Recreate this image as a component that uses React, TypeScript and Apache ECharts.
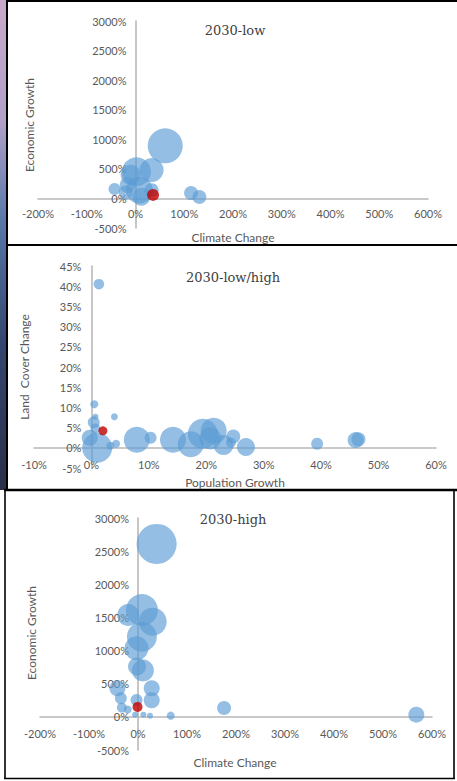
import React, { useEffect, useRef } from "react";
import * as echarts from "echarts";

// ---- Data ----
// Panel titles and axis names
const panelTitles = ["2030-low", "2030-low/high", "2030-high"];
const xNames = ["Climate Change", "Population Growth", "Climate Change"];
const yNames = ["Economic Growth", "Land  Cover Change", "Economic Growth"];

// axis ranges [min, max, interval] (percent)
const climateRange = [-200, 600, 100];
const economicRange = [-500, 3000, 500];
const populationRange = [-10, 60, 10];
const landRange = [-5, 45, 5];

// bubbles: [x %, y %, bubble size value]
const lowBlue: number[][] = [
  [61, 890, 306],
  [2, 450, 210],
  [33, 480, 144],
  [-10, 400, 100],
  [8, 140, 180],
  [-16, 225, 64],
  [33, 140, 49],
  [-43, 160, 36],
  [-20, 100, 49],
  [12, 30, 81],
  [114, 90, 49],
  [131, 25, 49],
];
const lowRed: number[][] = [[36, 60, 36]];

const landBlue: number[][] = [
  [1.3, 40.5, 28],
  [0.5, 10.8, 16],
  [0.7, 7.7, 9],
  [4, 7.7, 12],
  [0.4, 6.3, 36],
  [0.7, 4.8, 25],
  [1, 0, 225],
  [-0.3, 2.5, 64],
  [3.3, 0.5, 16],
  [4.3, 1, 16],
  [7.9, 2, 169],
  [10.3, 2.5, 36],
  [14.2, 2, 169],
  [17.3, 0.9, 169],
  [19.4, 3.5, 225],
  [21.3, 4.2, 169],
  [20.7, 2.3, 121],
  [23, 0.7, 100],
  [24.7, 2.8, 49],
  [24.3, 1.3, 25],
  [26.9, 0.2, 81],
  [39.3, 1, 36],
  [46, 1.9, 64],
  [46.5, 2.1, 49],
];
const landRed: number[][] = [[2, 4.2, 20]];

const highBlue: number[][] = [
  [38, 2609, 400],
  [8, 1612, 256],
  [30, 1436, 196],
  [-20, 1537, 121],
  [8, 1210, 225],
  [-3, 1035, 144],
  [10, 700, 121],
  [-2, 760, 81],
  [28, 431, 64],
  [28, 250, 64],
  [-42, 431, 64],
  [-35, 280, 36],
  [-33, 140, 25],
  [-21, 110, 16],
  [-3, 255, 36],
  [-6, 33, 9],
  [11, 33, 9],
  [24.5, 18, 9],
  [66.8, 18, 16],
  [175.7, 133, 49],
  [568, 33, 64],
];
const highRed: number[][] = [[-1, 150, 25]];

const LABEL_FONT = "Lato, 'Open Sans', sans-serif";
const LABEL_COLOR = "#595959";
const AXIS_COLOR = "#b8b8b8";

const grids = [
  { left: 38, width: 390, top: 21, height: 207 },
  { left: 34, width: 402, top: 266, height: 202 },
  { left: 40, width: 392, top: 518, height: 232 },
];

// pixel distance from the grid edge to the zero value (so the axes cross at 0)
function zeroOffset(range: number[], length: number) {
  return (-range[0] / (range[1] - range[0])) * length;
}

function valueAxis(gridIndex: number, range: number[], margin: number, offset: number) {
  return {
    type: "value",
    gridIndex,
    min: range[0],
    max: range[1],
    interval: range[2],
    offset: -offset,
    axisLine: { show: true, onZero: false, lineStyle: { color: AXIS_COLOR, width: 1.6 } },
    axisTick: { show: false },
    splitLine: { show: false },
    axisLabel: {
      interval: 0,
      margin,
      color: LABEL_COLOR,
      fontFamily: LABEL_FONT,
      fontSize: 11,
      formatter: (v: number) => v + "%",
    },
  };
}

const bubbleSize = (v: number[]) => 2 * Math.sqrt(v[2]);

function bubbleSeries(i: number, blue: number[][], red: number[][]) {
  return [
    {
      type: "scatter",
      xAxisIndex: i,
      yAxisIndex: i,
      data: blue,
      symbolSize: bubbleSize,
      itemStyle: { color: "rgba(91,155,213,0.82)" },
    },
    {
      type: "scatter",
      xAxisIndex: i,
      yAxisIndex: i,
      data: red,
      symbolSize: bubbleSize,
      itemStyle: { color: "#c00000" },
    },
  ];
}

export default function App() {
  const ref = useRef<HTMLDivElement>(null);

  useEffect(() => {
    document.body.style.margin = "0";
    if (!ref.current) return;
    const chart = echarts.init(ref.current, undefined, { renderer: "svg" });

    const titleStyle = {
      fontFamily: "'DejaVu Serif', serif",
      fontSize: 13,
      fill: "#404040",
      textAlign: "center",
      textVerticalAlign: "middle",
    };
    const nameStyle = {
      fontFamily: LABEL_FONT,
      fontSize: 12,
      fill: LABEL_COLOR,
      textAlign: "center",
      textVerticalAlign: "middle",
    };

    const titlePos = [
      [235, 30],
      [233, 277],
      [233, 519],
    ];
    const xNamePos = [
      [233, 237],
      [235, 482],
      [235, 762],
    ];
    const yNamePos = [
      [29, 125],
      [24, 367],
      [31, 633],
    ];

    const texts: any[] = [];
    for (let i = 0; i < 3; i++) {
      texts.push({
        type: "text",
        x: titlePos[i][0],
        y: titlePos[i][1],
        style: { ...titleStyle, text: panelTitles[i] },
      });
      texts.push({
        type: "text",
        x: xNamePos[i][0],
        y: xNamePos[i][1],
        style: { ...nameStyle, text: xNames[i] },
      });
      texts.push({
        type: "text",
        x: yNamePos[i][0],
        y: yNamePos[i][1],
        rotation: Math.PI / 2,
        style: { ...nameStyle, text: yNames[i] },
      });
    }

    const border = { stroke: "#000", lineWidth: 2 };
    const frame: any[] = [
      {
        type: "rect",
        shape: { x: 0, y: 0, width: 6, height: 490 },
        style: {
          fill: new echarts.graphic.LinearGradient(0, 0, 0, 1, [
            { offset: 0, color: "#c9a9c9" },
            { offset: 0.25, color: "#b0a0c8" },
            { offset: 0.45, color: "#5878a8" },
            { offset: 0.7, color: "#34466e" },
            { offset: 1, color: "#2a2f48" },
          ]),
        },
      },
      { type: "line", shape: { x1: 7, y1: 0, x2: 7, y2: 490 }, style: border },
      { type: "line", shape: { x1: 6, y1: 1, x2: 457, y2: 1 }, style: border },
      { type: "line", shape: { x1: 6, y1: 245, x2: 457, y2: 245 }, style: border },
      { type: "line", shape: { x1: 4, y1: 490, x2: 457, y2: 490 }, style: { stroke: "#000", lineWidth: 2.5 } },
      { type: "line", shape: { x1: 5, y1: 490, x2: 5, y2: 779 }, style: { stroke: "#000", lineWidth: 1.6 } },
      { type: "line", shape: { x1: 4, y1: 778.5, x2: 455, y2: 778.5 }, style: { stroke: "#000", lineWidth: 1.6 } },
      { type: "line", shape: { x1: 454, y1: 490, x2: 454, y2: 779 }, style: { stroke: "#000", lineWidth: 1.6 } },
    ];

    const xRanges = [climateRange, populationRange, climateRange];
    const yRanges = [economicRange, landRange, economicRange];
    const xMargins = [10, 11, 11];
    const yMargins = [9, 10, 9];

    chart.setOption({
      animation: false,
      backgroundColor: "#fff",
      grid: grids,
      xAxis: xRanges.map((r, i) =>
        valueAxis(i, r, xMargins[i], zeroOffset(yRanges[i], grids[i].height))
      ),
      yAxis: yRanges.map((r, i) =>
        valueAxis(i, r, yMargins[i], zeroOffset(xRanges[i], grids[i].width))
      ),
      series: [
        ...bubbleSeries(0, lowBlue, lowRed),
        ...bubbleSeries(1, landBlue, landRed),
        ...bubbleSeries(2, highBlue, highRed),
      ],
      graphic: [...frame, ...texts],
    });

    return () => chart.dispose();
  }, []);

  return <div ref={ref} style={{ width: 457, height: 781 }} />;
}
